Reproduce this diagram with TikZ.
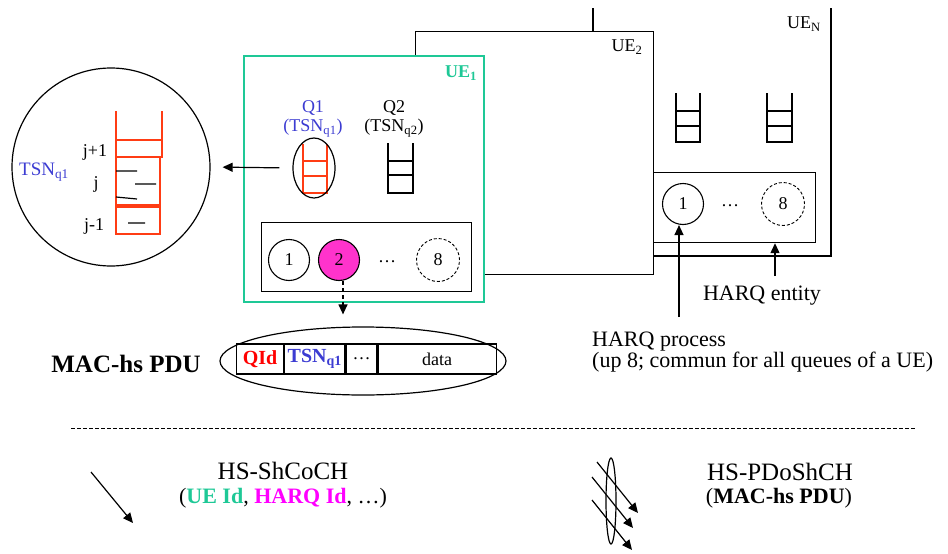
\documentclass[tikz,border=0pt]{standalone}
\usepackage{fontspec}
\setmainfont{Liberation Serif}
\usetikzlibrary{arrows.meta,shapes.geometric}
\definecolor{ueteal}{RGB}{30,200,150}
\definecolor{qblue}{RGB}{60,60,210}
\definecolor{qred}{RGB}{255,60,20}
\definecolor{hmag}{RGB}{255,0,255}
\definecolor{cfill}{RGB}{255,51,204}
\newcommand{\fs}[1]{\fontsize{#1}{#1}\selectfont}
\newcommand{\sbq}[1]{\textsubscript{#1}}
\newcommand{\myqueue}[7]{%
  \draw[line width=1.2pt,#7] (#1,#3) -- (#1,#6) -- (#2,#6) -- (#2,#3);
  \draw[line width=1.2pt,#7] (#1,#4) -- (#2,#4);
  \draw[line width=1pt,#7] (#1,#5) -- (#2,#5) (#1,#5+1.6) -- (#2,#5+1.6);
}
\begin{document}
\begin{tikzpicture}[x=1pt,y=-1pt,
  ln/.style={line width=1.2pt},
  box/.style={draw,line width=1.2pt,inner sep=0pt,anchor=north west},
  arr/.style={line width=1.2pt,-{Triangle[length=10pt,width=9pt]}},
  proc/.style={circle,draw,line width=1.1pt,minimum size=41pt,inner sep=0pt,font=\fs{18}},
  dproc/.style={proc,dash pattern=on 3pt off 2pt,line width=0.9pt,minimum size=43pt},
  lbl/.style={inner sep=0pt,font=\fs{18}},
  cell/.style={draw,line width=1.2pt,minimum height=30pt,inner sep=0pt,anchor=west},
]
\useasboundingbox (0,0) rectangle (948,554);

% UE_N (partly hidden)
\draw[ln] (593,8) -- (593,256) -- (831,256) -- (831,8);
\node[lbl] (uenl) at (804,24) {UE\sbq{N}};
\myqueue{676}{700}{93}{111}{125}{142}{black}
\myqueue{767}{792}{93}{111}{125}{142}{black}

% UE_2
\node[box,fill=white,minimum width=238pt,minimum height=243pt] (ue2) at (415,31) {};
\node[lbl] (ue2l) at (627,47) {UE\sbq{2}};

% HARQ entity of UE_N
\node[box,minimum width=162pt,minimum height=70pt] (hbN) at (653,172) {};
\node[proc] (n1) at (683,204) {1};
\node[lbl] (ndots) at (730,206) {\dots};
\node[dproc] (n8) at (783,204) {8};

% UE_1
\node[box,draw=ueteal,line width=1.5pt,fill=white,minimum width=240pt,minimum height=246pt] (ue1) at (243,55) {};
\node[lbl,text=ueteal,font=\fs{18}\bfseries] (ue1l) at (461,73) {UE\sbq{1}};

\node[lbl,text=qblue] (q1l) at (313,108) {Q1};
\node[lbl,text=qblue] (q1t) at (313,128) {(TSN\sbq{q1})};
\node[lbl] (q2l) at (394,108) {Q2};
\node[lbl] (q2t) at (394,128) {(TSN\sbq{q2})};
\myqueue{303}{327}{144}{161}{175}{193}{qred}
\myqueue{388}{413}{143}{161}{174}{193}{black}
\node[ellipse,draw,line width=1.2pt,minimum width=42pt,minimum height=60pt,inner sep=0pt] (q1e) at (314,168) {};

\node[box,minimum width=210pt,minimum height=69pt] (hb1) at (261,222) {};
\node[proc] (c1) at (289,260) {1};
\node[proc,fill=cfill] (c2) at (339,260) {2};
\node[lbl] (cdots) at (387,262) {\dots};
\node[dproc] (c8) at (438,260) {8};

% zoomed queue
\node[circle,draw,line width=1.2pt,minimum size=198pt,inner sep=0pt] (zoom) at (111,167) {};
\node[lbl,text=qblue,font=\fs{19}] (ztsn) at (44,172) {TSN\sbq{q1}};
\draw[line width=1.2pt,qred] (116,111) -- (116,140) (162,111) -- (162,140);
\draw[line width=1.2pt,qred] (116,140) rectangle (162,157);
\draw[line width=1.2pt,qred] (116,157) rectangle (160,205);
\draw[line width=1.2pt,qred] (116,207) rectangle (160,234);
\draw[line width=1.2pt] (116,171) -- (137,171) (135,184) -- (156,184) (116,197) -- (137,199) (128,223) -- (145,223);
\node[lbl] (jp) at (95,152) {j+1};
\node[lbl] (jj) at (96,184) {j};
\node[lbl] (jm) at (94,226) {j-1};

\draw[arr,shorten <=13pt,shorten >=12pt] (q1e.west) -- (zoom.east);

% MAC-hs PDU
\node[inner sep=0pt,font=\fs{25}\bfseries,anchor=base] (macl) at (126,372) {MAC-hs PDU};
\node[ellipse,draw,line width=1.2pt,minimum width=286pt,minimum height=68pt,inner sep=0pt] (pdu) at (363,361) {};
\node[cell,minimum width=47pt,text=red,font=\fs{20}\bfseries] (cq) at (236,359) {QId};
\node[cell,minimum width=60pt,text=qblue,font=\fs{20}\bfseries] (ct) at (cq.east) {TSN\sbq{q1}};
\node[cell,minimum width=31pt,font=\fs{18}] (cd) at (ct.east) {\dots};
\node[cell,minimum width=118pt,font=\fs{18}] (cdata) at (cd.east) {data};

\draw[arr,dash pattern=on 4pt off 3pt,shorten >=12pt] ([xshift=4pt]c2.south) -- ([xshift=4pt]c2.south |- pdu.north);

% HARQ labels
\node[inner sep=0pt,font=\fs{22},anchor=base] (he) at (762,300) {HARQ entity};
\node[inner sep=0pt,font=\fs{22},anchor=base west] (hp1) at (592,346) {HARQ process};
\node[inner sep=0pt,font=\fs{22},anchor=base west] (hp2) at (592,367) {(up 8; commun for all queues of a UE)};
\coordinate (hpa) at (679,317);
\coordinate (hea) at (775,276);
\draw[arr] (hpa) -- (hpa |- n1.south);
\draw[arr] (hea) -- (hea |- hbN.south);

% separator
\draw[line width=1pt,dash pattern=on 4pt off 2pt] (71,428) -- (915,428);

% legend 1
\coordinate (l1s) at (91,472);
\coordinate (l1e) at (133,523);
\draw[arr] (l1s) -- (l1e);
\node[inner sep=0pt,font=\fs{25},anchor=base] (ls1) at (283,479) {HS-ShCoCH};
\node[inner sep=0pt,font=\fs{22},anchor=base] (ls2) at (283,503) {(\textcolor{ueteal}{\textbf{UE Id}}, \textcolor{hmag}{\textbf{HARQ Id}}, \dots)};

% legend 2
\coordinate (a1s) at (597,462); \coordinate (a1e) at (638,513);
\coordinate (a2s) at (592,477); \coordinate (a2e) at (633,528);
\coordinate (a3s) at (592,500); \coordinate (a3e) at (632,550);
\draw[arr] (a1s) -- (a1e);
\draw[arr] (a2s) -- (a2e);
\draw[arr] (a3s) -- (a3e);
\node[ellipse,draw,line width=1.2pt,minimum width=10pt,minimum height=86pt,inner sep=0pt] (bund) at (611,501) {};
\node[inner sep=0pt,font=\fs{25},anchor=base] (lp1) at (780,480) {HS-PDoShCH};
\node[inner sep=0pt,font=\fs{22},anchor=base] (lp2) at (779,503) {(\textbf{MAC-hs PDU})};
\end{tikzpicture}
\end{document}
